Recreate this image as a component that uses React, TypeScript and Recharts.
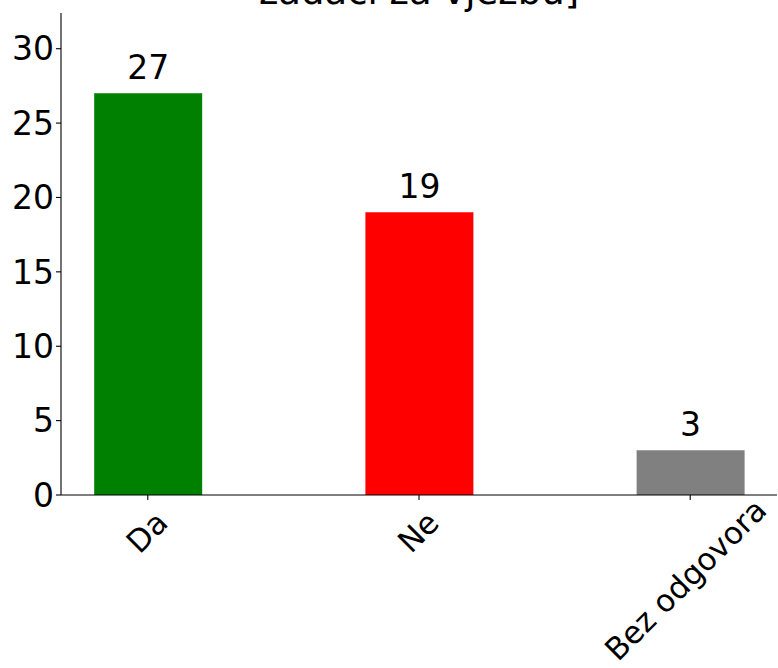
import React from "react";
import { BarChart, Bar, XAxis, YAxis, Cell, LabelList } from "recharts";

const categories = ["Da", "Ne", "Bez odgovora"];
const values = [27, 19, 3];
const colors = ["#008000", "#ff0000", "#808080"];
const yTicks = [0, 5, 10, 15, 20, 25, 30];
const titleText = "zadaci za vježbu]";

const FONT = "DejaVu Sans, sans-serif";
const X_TICK_SIZE = 31;
const Y_TICK_SIZE = 33;
const VALUE_SIZE = 33;

const data = categories.map((c, i) => ({ x: i, name: c, value: values[i] }));

function measure(text: string, size: number): number {
  try {
    const cv = document.createElement("canvas");
    const ctx = cv.getContext("2d");
    if (ctx) {
      ctx.font = `${size}px "DejaVu Sans"`;
      return ctx.measureText(text).width;
    }
  } catch (e) {}
  return text.length * size * 0.6;
}

const RotTick = (props: any) => {
  const { x, y, payload } = props;
  const label = categories[payload.value] ?? "";
  const size = X_TICK_SIZE;
  const w = measure(label, size);
  const cy = y + 16 + 0.28 * w;
  const cx = x - 0.022 * w;
  return (
    <text
      x={cx}
      y={cy}
      textAnchor="middle"
      dominantBaseline="central"
      fontSize={size}
      fontFamily={FONT}
      fill="#000"
      transform={`rotate(-45, ${cx}, ${cy})`}
    >
      {label}
    </text>
  );
};

export default function App() {
  return (
    <div style={{ position: "absolute", left: 0, top: 0, width: 778, height: 668, background: "#fff" }}>
      <div
        style={{
          position: "absolute",
          left: 61,
          width: 716,
          top: -27,
          textAlign: "center",
          fontFamily: FONT,
          fontSize: 37,
          lineHeight: "37px",
          color: "#000",
          whiteSpace: "nowrap",
        }}
      >
        {titleText}
      </div>
      <BarChart
        width={778}
        height={668}
        data={data}
        margin={{ top: 13, right: 1, bottom: 0, left: 0 }}
        style={{ position: "absolute", left: 0, top: 0 }}
      >
        <XAxis
          dataKey="x"
          type="number"
          domain={[-0.32, 2.32]}
          ticks={[0, 1, 2]}
          height={173}
          tick={<RotTick />}
          tickSize={5}
          tickMargin={4}
          axisLine={{ stroke: "#000", strokeWidth: 1.1 }}
          tickLine={{ stroke: "#000", strokeWidth: 1.1 }}
          interval={0}
          allowDataOverflow
        />
        <XAxis
          xAxisId="top"
          orientation="top"
          dataKey="x"
          type="number"
          domain={[-0.32, 2.32]}
          height={0}
          tick={false}
          tickLine={false}
          axisLine={{ stroke: "#000", strokeWidth: 1.1 }}
        />
        <YAxis
          type="number"
          domain={[0, 32.4]}
          ticks={yTicks}
          width={61}
          tickSize={5}
          tickMargin={2}
          tick={{ fontSize: Y_TICK_SIZE, fontFamily: FONT, fill: "#000" }}
          axisLine={{ stroke: "#000", strokeWidth: 1.1 }}
          tickLine={{ stroke: "#000", strokeWidth: 1.1 }}
          allowDataOverflow
        />
        <YAxis
          yAxisId="right"
          orientation="right"
          domain={[0, 32.4]}
          width={0}
          tick={false}
          tickLine={false}
          axisLine={{ stroke: "#000", strokeWidth: 1.1 }}
        />
        <Bar dataKey="value" barSize={108} isAnimationActive={false}>
          {data.map((d, i) => (
            <Cell key={d.name} fill={colors[i]} />
          ))}
          <LabelList
            dataKey="value"
            position="top"
            offset={14}
            fontSize={VALUE_SIZE}
            fontFamily={FONT}
            fill="#000"
          />
        </Bar>
      </BarChart>
    </div>
  );
}
